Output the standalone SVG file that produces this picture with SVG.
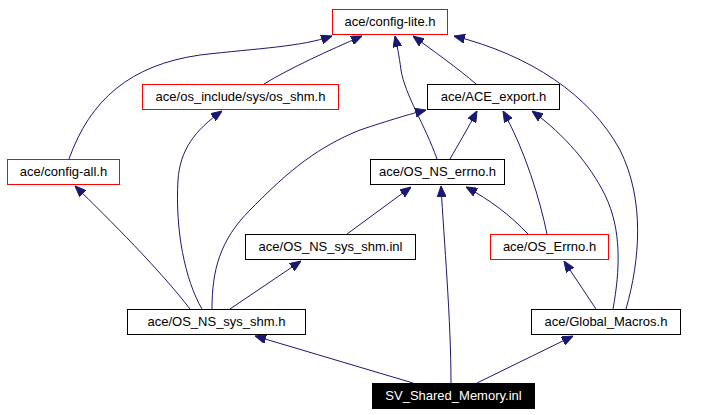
<svg xmlns="http://www.w3.org/2000/svg" width="716" height="415" viewBox="0 0 716 415">
<style>
.box{fill:#ffffff;stroke:#000000;stroke-width:1}
.red{stroke:#ff0000}
.dark{fill:#000000}
text{font-family:"Liberation Sans",Arial,sans-serif;font-size:13px;text-anchor:middle;fill:#000000}
.wt{fill:#ffffff}
.e{fill:none;stroke:#191970;stroke-width:1;marker-end:url(#ah)}
</style>
<defs>
<marker id="ah" markerUnits="userSpaceOnUse" markerWidth="11" markerHeight="9" refX="11" refY="4.5" orient="auto">
<path d="M0,0 L11,4.5 L0,9 z" fill="#191970" stroke="#191970" stroke-width="1"/>
</marker>
</defs>
<rect width="716" height="415" fill="#ffffff"/>
<g id="edges">
<path class="e" d="M413,383 L255,336"/>
<path class="e" d="M451,383 C451,320 444,240 441,186"/>
<path class="e" d="M477,383 L573,336"/>
<path class="e" d="M190,309 C160,270 110,220 75,186"/>
<path class="e" d="M202,309 C185,280 175,230 178,180 C180,150 195,130 222,111"/>
<path class="e" d="M212,309 C212,270 220,240 250,210 C280,180 310,150 360,130 C390,120 410,114 426,110"/>
<path class="e" d="M230,309 L301,261"/>
<path class="e" d="M347,234 L411,187"/>
<path class="e" d="M437,159 C425,125 405,95 401,70 C399,55 397,45 395,36"/>
<path class="e" d="M450,159 C458,145 468,128 477,111"/>
<path class="e" d="M528,234 C510,215 490,200 466,187"/>
<path class="e" d="M547,234 C540,200 525,150 503,111"/>
<path class="e" d="M476,84 C460,70 435,52 413,36"/>
<path class="e" d="M264,84 C290,68 330,50 362,36"/>
<path class="e" d="M69,159 C90,100 130,65 200,55 C260,48 300,47 332,36"/>
<path class="e" d="M626,309 C640,260 645,200 620,150 C590,95 530,55 454,36"/>
<path class="e" d="M613,309 C620,270 622,230 605,195 C590,165 565,135 532,111"/>
<path class="e" d="M596,309 L564,261"/>
</g>
<g id="config_lite"><rect class="box red" x="332.5" y="9.5" width="115" height="25"/><text x="390" y="26">ace/config-lite.h</text></g>
<g id="os_shm"><rect class="box red" x="142.5" y="84.5" width="196" height="25"/><text x="240.5" y="101">ace/os_include/sys/os_shm.h</text></g>
<g id="ace_export"><rect class="box" x="427.5" y="84.5" width="132" height="25"/><text x="493.5" y="101">ace/ACE_export.h</text></g>
<g id="config_all"><rect class="box red" x="7.5" y="159.5" width="112" height="25"/><text x="63.5" y="176">ace/config-all.h</text></g>
<g id="os_ns_errno"><rect class="box" x="370.5" y="159.5" width="134" height="25"/><text x="437.5" y="176">ace/OS_NS_errno.h</text></g>
<g id="os_ns_sys_shm_inl"><rect class="box" x="245.5" y="234.5" width="170" height="25"/><text x="330.5" y="251">ace/OS_NS_sys_shm.inl</text></g>
<g id="os_errno"><rect class="box red" x="490.5" y="234.5" width="118" height="25"/><text x="549.5" y="251">ace/OS_Errno.h</text></g>
<g id="os_ns_sys_shm_h"><rect class="box" x="127.5" y="309.5" width="178" height="25"/><text x="216.5" y="326">ace/OS_NS_sys_shm.h</text></g>
<g id="global_macros"><rect class="box" x="531.5" y="309.5" width="149" height="25"/><text x="606" y="326">ace/Global_Macros.h</text></g>
<g id="sv_shared_memory"><rect class="box dark" x="372.5" y="383.5" width="162" height="25"/><text class="wt" x="453.5" y="400">SV_Shared_Memory.inl</text></g>
</svg>
